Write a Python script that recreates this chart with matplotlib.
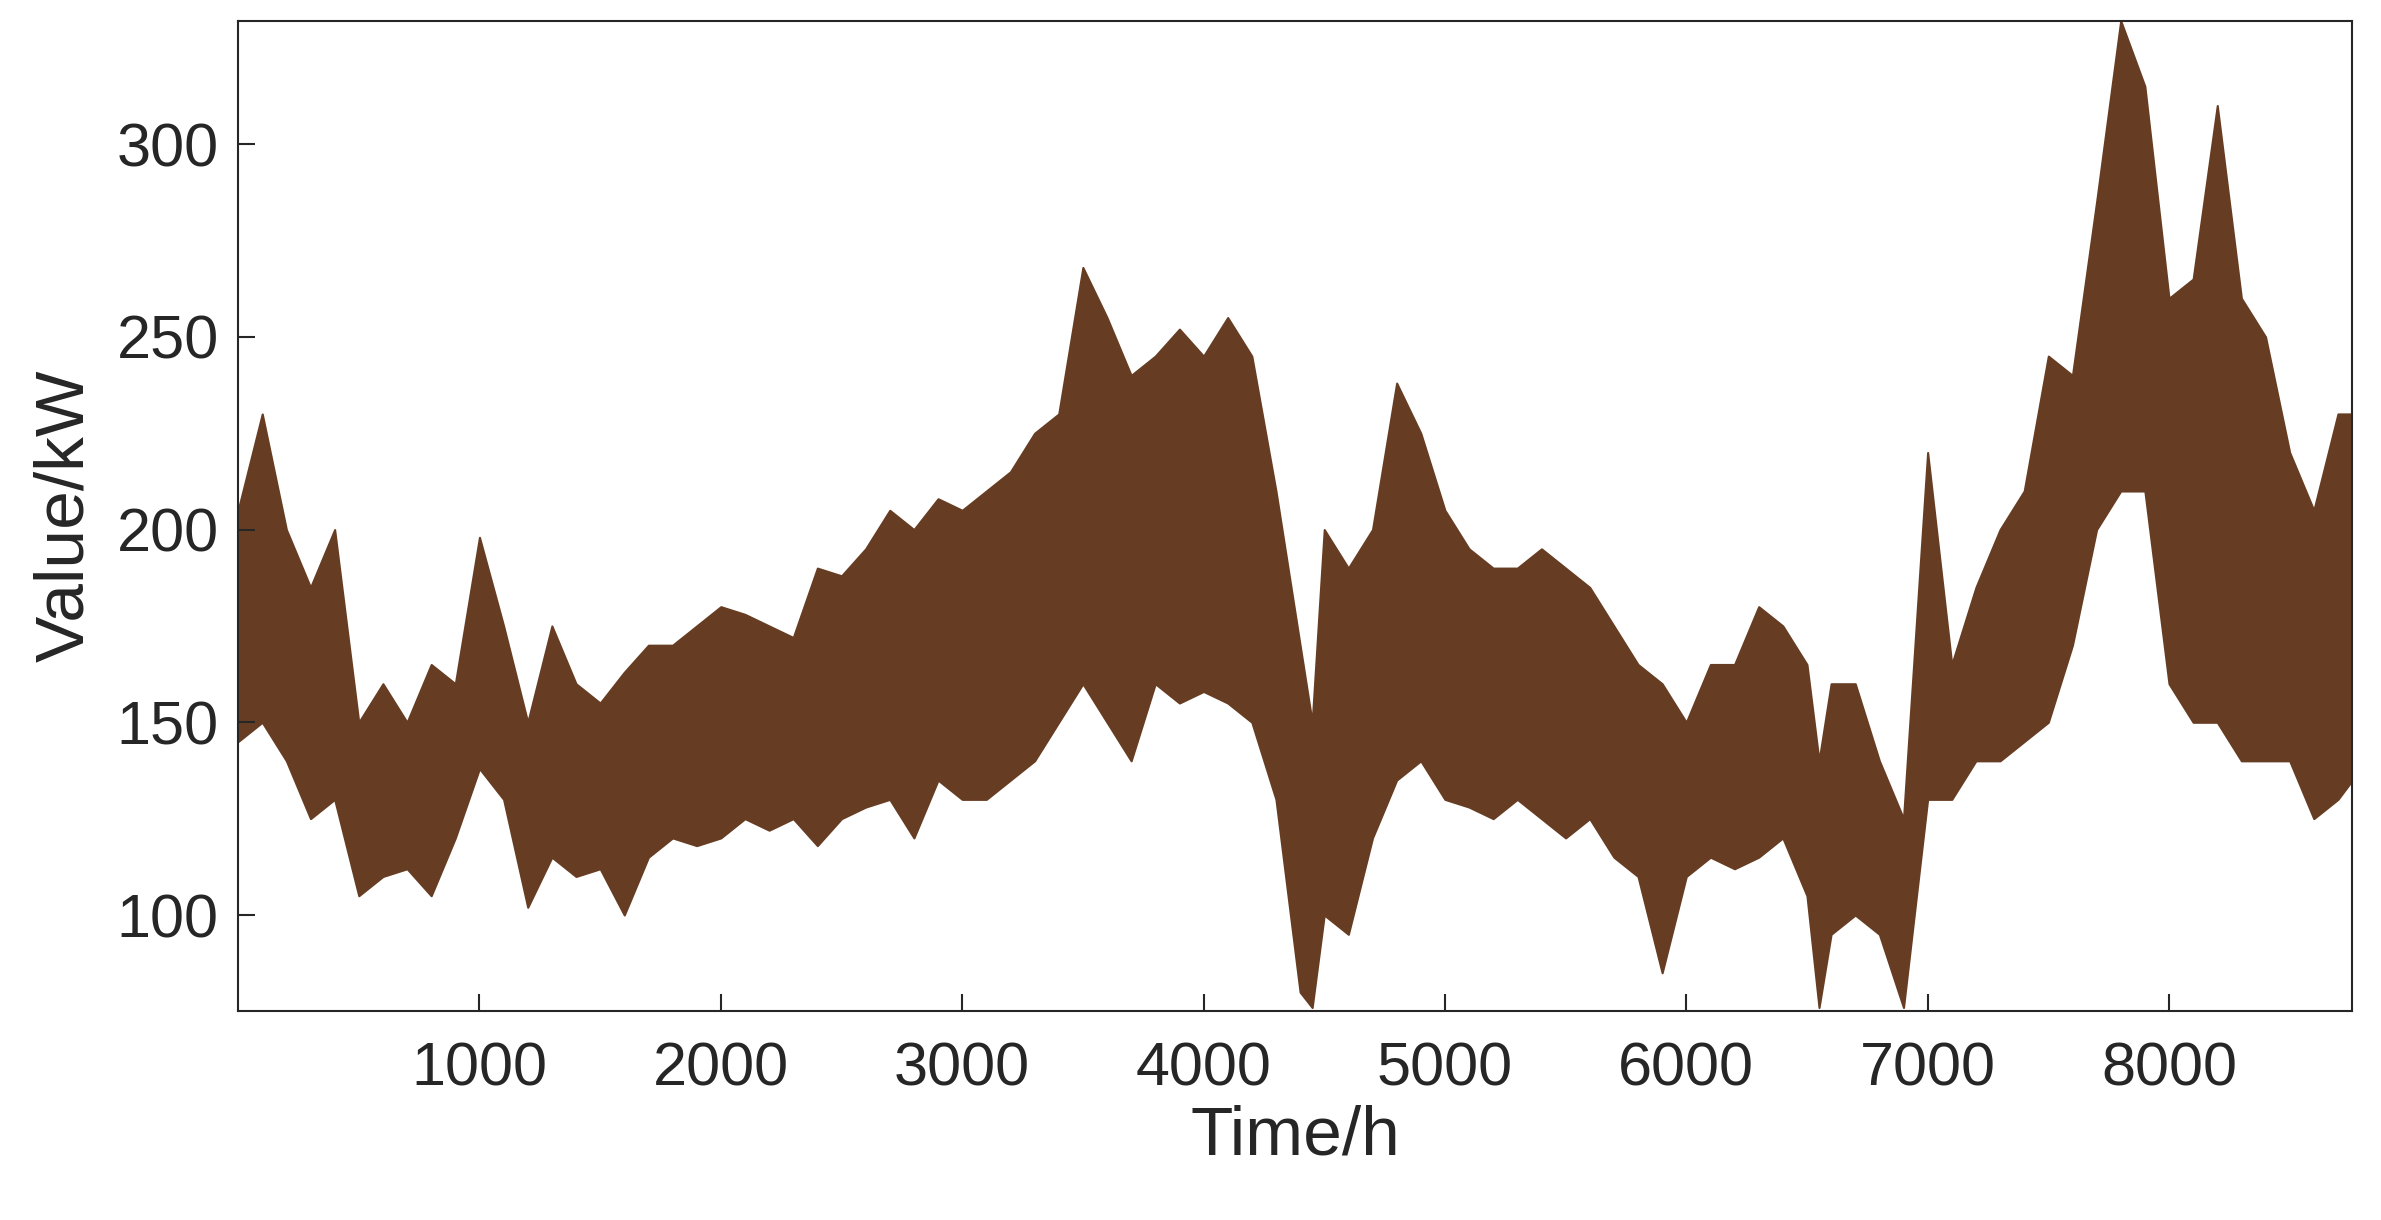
import matplotlib
matplotlib.use("Agg")
import matplotlib.pyplot as plt

# Envelope of the hourly series (upper / lower bounds)
hours = [0,100,200,300,400,500,600,700,800,900,1000,1100,1200,1300,1400,1500,1600,1700,1800,1900,
         2000,2100,2200,2300,2400,2500,2600,2700,2800,2900,3000,3100,3200,3300,3400,3500,3600,3700,
         3800,3900,4000,4100,4200,4300,4400,4450,4500,4600,4700,4800,4900,5000,5100,5200,5300,5400,
         5500,5600,5700,5800,5900,6000,6100,6200,6300,6400,6500,6550,6600,6700,6800,6900,7000,7100,
         7200,7300,7400,7500,7600,7700,7800,7900,8000,8100,8200,8300,8400,8500,8600,8700,8760]
upper = [205,230,200,185,200,150,160,150,165,160,198,175,150,175,160,155,163,170,170,175,
         180,178,175,172,190,188,195,205,200,208,205,210,215,225,230,268,255,240,
         245,252,245,255,245,210,170,150,200,190,200,238,225,205,195,190,190,195,
         190,185,175,165,160,150,165,165,180,175,165,140,160,160,140,125,220,165,
         185,200,210,245,240,285,332,315,260,265,310,260,250,220,205,230,230]
lower = [145,150,140,125,130,105,110,112,105,120,138,130,102,115,110,112,100,115,120,118,
         120,125,122,125,118,125,128,130,120,135,130,130,135,140,150,160,150,140,
         160,155,158,155,150,130,80,76,100,95,120,135,140,130,128,125,130,125,
         120,125,115,110,85,110,115,112,115,120,105,76,95,100,95,76,130,130,
         140,140,145,150,170,200,210,210,160,150,150,140,140,140,125,130,135]

color = "#663D23"
plt.rcParams['font.family'] = ['Liberation Sans', 'DejaVu Sans']
fig = plt.figure(figsize=(23.81, 12.2), dpi=100)
ax = fig.add_axes([0.100, 0.171, 0.888, 0.812])
ax.fill_between(hours, lower, upper, color=color, linewidth=1.5, edgecolor=color)
ax.set_xlim(0, 8760)
ax.set_ylim(75, 332)
ax.set_xticks([1000,2000,3000,4000,5000,6000,7000,8000])
ax.set_yticks([100,150,200,250,300])
ax.tick_params(direction='in', labelsize=44, length=12, width=1.5, colors='#262626')
ax.tick_params(axis='x', pad=22)
ax.tick_params(axis='y', pad=14)
for s in ax.spines.values():
    s.set_linewidth(1.5); s.set_color('#262626')
ax.set_xlabel("Time/h", fontsize=50, color='#262626', labelpad=4)
ax.set_ylabel("Value/kW", fontsize=50, color='#262626', labelpad=14)
fig.savefig("out.png", dpi=100)
